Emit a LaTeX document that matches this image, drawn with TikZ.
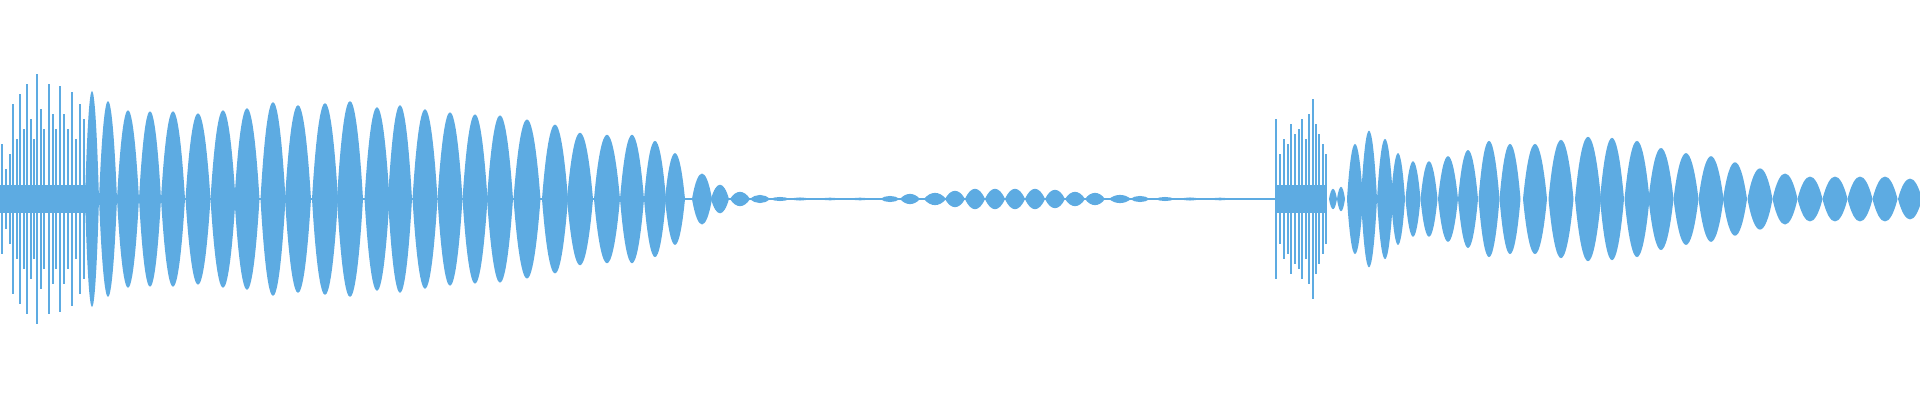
\documentclass[tikz,border=0pt]{standalone}
\definecolor{wave}{RGB}{93,171,226}
\begin{document}
\begin{tikzpicture}[x=1pt,y=1pt]
\useasboundingbox (0,-201) rectangle (1920,199);
\tikzset{wv/.style={fill=wave,draw=none}}
% centre line
\fill[wave] (0,-0.6) rectangle (1290,0.6);
% dense bands under the spikes
\fill[wave] (0,-14) rectangle (86,14);
\fill[wave] (1276,-14) rectangle (1326,14);
% spikes
\foreach \c/\h in {2/55,6/30,10/45,13/95,17/60,20/105,24/70,27/115,31/80,34/60,37/125,41/90,44/70,49/115,53/85,56/70,60/113,64/85,68/70,72/107,76/60,80/95,84/80,
1276/80,1280/45,1284/60,1288/55,1291/75,1295/65,1299/70,1302/80,1306/60,1309/85,1313/100,1316/75,1319/65,1323/55,1326/45}
  \fill[wave] (\c-1.1,-\h) rectangle (\c+1.1,\h);
% lobes c/w/h
\foreach \c/\w/\h in {92/14/106,108/18/96,128/22/87,150/22/86,173/24/86,198/25/84,223/25/87,247/25/89,273/25/95,298/26/92,325/26/94,350/26/96,377/25/90,400/24/92,425/25/88,450/25/85,475/25/83,500/26/82,527/27/78,555/26/73,580/26/65,607/26/63,632/24/63,655/22/57,675/20/45,702/20/25,720/18/14,740/20/7,760/20/4,780/20/2,800/20/1.5,830/20/1.3,860/20/1.3,
890/20/3,910/20/5,935/22/6,955/20/8,975/20/10,995/20/10,1015/20/10,1035/20/10,1055/20/9,1075/20/7,1095/20/6,1120/22/4,1140/20/3,1165/20/2,1190/20/1.5,1220/20/1.3,
1333/8/10,1341/8/12,1355/16/54,1369/16/67,1385/16/59,1398/14/45,1413/15/37,1429/17/37,1448/20/42,1468/20/48,1489/21/57,1510/21/54,1535/24/54,1561/25/58,1588/26/61,1612/24/60,1637/25/57,1661/25/50,1686/25/45,1711/25/42,1735/24/36,1760/25/30,1785/25/25,1810/25/22,1835/25/22,1860/25/22,1885/25/22,1910/24/20}
  \fill[wave] (\c-\w/2,0) .. controls (\c-\w/5,1.36*\h) and (\c+\w/5,1.36*\h) .. (\c+\w/2,0)
     .. controls (\c+\w/5,-1.36*\h) and (\c-\w/5,-1.36*\h) .. cycle;
\end{tikzpicture}
\end{document}
